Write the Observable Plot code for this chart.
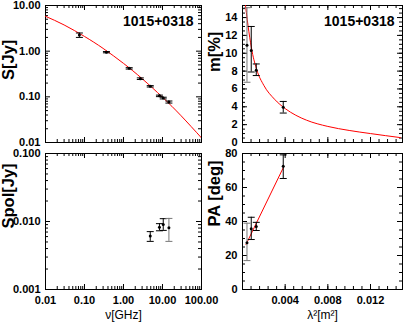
<!DOCTYPE html>
<html>
<head>
<meta charset="utf-8">
<script src="https://cdn.jsdelivr.net/npm/d3@7"></script>
<script src="https://cdn.jsdelivr.net/npm/@observablehq/plot@0.6"></script>
<style>
  body { margin: 0; background: white; }
  #c { position: relative; width: 407px; height: 323px; background: white; overflow: hidden; }
</style>
</head>
<body>
<div id="c"></div>
<script>
// ---- Data ----
const sourceName = "1015+0318";

// Total flux density spectrum
const nuS   = [0.074, 0.365, 1.4, 2.7, 4.85, 8.35, 10.45, 14.6];   // GHz
const S     = [2.25, 0.95, 0.42, 0.25, 0.17, 0.105, 0.094, 0.077]; // Jy
const SErr  = [0.25, 0.03, 0.015, 0.01, 0.006, 0.004, 0.004, 0.004];

// Fitted spectrum curve
const nuFit = [0.01, 0.03, 0.1, 0.3, 1, 3, 10, 30, 100];
const SFit  = [5.8, 3.75, 2.1, 1.15, 0.54, 0.25, 0.098, 0.0385, 0.0126];

// Polarized flux density
const nuPol  = [4.85, 8.35, 10.45, 14.6];
const Spol   = [0.0061, 0.0082, 0.0090, 0.0081];
const SpolLo = [0.0051, 0.0073, 0.0074, 0.0051];
const SpolHi = [0.0071, 0.0093, 0.0110, 0.0111];

// Fractional polarization vs lambda^2
const lam2 = [0.00382, 0.00129, 0.00082, 0.00042];
const mPct = [3.95, 8.1, 10.3, 10.9];
const mLo  = [3.3, 7.5, 7.9, 6.75];
const mHi  = [4.6, 8.8, 13.0, 15.1];

// Depolarization fit
const lam2MFit = [0.00028, 0.0006, 0.0009, 0.00135, 0.002, 0.003, 0.004, 0.005, 0.006, 0.008, 0.010, 0.012, 0.0148];
const mFit     = [15.35, 12.4, 10.2, 8.1, 6.4, 4.85, 3.8, 3.05, 2.5, 1.8, 1.35, 1.0, 0.55];

// Polarization angle vs lambda^2
const PA   = [72.5, 37.1, 35.7, 27.5];
const PALo = [65.3, 34.7, 29.4, 17.0];
const PAHi = [79.2, 39.5, 42.5, 39.0];
const isGrey = [false, false, false, true];

// RM fit line
const lam2PAFit = [0.00033, 0.00385];
const PAFit     = [26.5, 72];

// Tick labels
const logXTicks   = [0.01, 0.1, 1, 10, 100];
const sTicks      = [0.01, 0.1, 1, 10];
const spolTicks   = [0.001, 0.01, 0.1];
const lam2Labels  = [0.004, 0.008, 0.012];
const mTicks      = [0, 2, 4, 6, 8, 10, 12, 14];
const paTicks     = [0, 20, 40, 60, 80];

// ---- Helpers ----
const FONT = "'Liberation Sans', Arial, Helvetica, sans-serif";
const container = document.getElementById("c");

function logMinors(lo, hi) {
  const out = [];
  for (let e = Math.round(Math.log10(lo)); e < Math.round(Math.log10(hi)); e++) {
    for (let k = 2; k <= 9; k++) out.push(k * Math.pow(10, e));
  }
  return out;
}
function linMinors(lo, hi, step) {
  const out = [];
  const n = Math.round((hi - lo) / step);
  for (let i = 0; i <= n; i++) out.push(+(lo + i * step).toFixed(6));
  return out;
}

function frameTicks(xMaj, xMin, yMaj, yMin, fw, fh) {
  const M = 5, m = 3;
  const id = d => d;
  return [
    Plot.tickX(xMaj, {x: id, insetTop: fh - M}),
    Plot.tickX(xMaj, {x: id, insetBottom: fh - M}),
    Plot.tickX(xMin, {x: id, insetTop: fh - m}),
    Plot.tickX(xMin, {x: id, insetBottom: fh - m}),
    Plot.tickY(yMaj, {y: id, insetRight: fw - M}),
    Plot.tickY(yMaj, {y: id, insetLeft: fw - M}),
    Plot.tickY(yMin, {y: id, insetRight: fw - m}),
    Plot.tickY(yMin, {y: id, insetLeft: fw - m})
  ];
}

const capSymbol = {
  draw(context, size) {
    const w = Math.sqrt(size / Math.PI);
    context.moveTo(-w, 0);
    context.lineTo(w, 0);
  }
};

function errorMarks(data, xk, yk, lok, hik, colorFn) {
  return [
    Plot.ruleX(data, {x: xk, y1: lok, y2: hik, stroke: colorFn, strokeWidth: 1}),
    Plot.dot(data, {x: xk, y: lok, symbol: capSymbol, r: 3.5, fill: "none", stroke: colorFn, strokeWidth: 1}),
    Plot.dot(data, {x: xk, y: hik, symbol: capSymbol, r: 3.5, fill: "none", stroke: colorFn, strokeWidth: 1}),
    Plot.dot(data, {x: xk, y: yk, r: 1.5, fill: "black", stroke: "none"})
  ];
}

function place(svg, left, top) {
  svg.style.position = "absolute";
  svg.style.left = left + "px";
  svg.style.top = top + "px";
  container.appendChild(svg);
}

const baseStyle = {
  fontFamily: FONT, fontSize: "11px", fontWeight: "bold",
  background: "transparent", overflow: "visible", color: "black"
};

function yLabel(text, dx, dy) {
  return Plot.text([text], {text: d => d, frameAnchor: "left", dx, dy, rotate: -90,
    fontSize: 16.5, fontWeight: "bold", fontFamily: FONT, fill: "black"});
}
function xLabel(text) {
  return Plot.text([text], {text: d => d, frameAnchor: "bottom", dy: 21, lineAnchor: "top",
    fontSize: 12, fontWeight: "normal", fontFamily: FONT, fill: "black"});
}
function title() {
  return Plot.text([sourceName], {text: d => d, frameAnchor: "top-right", textAnchor: "end",
    dx: -8, dy: 11, fontSize: 14, fontWeight: "bold", fontFamily: FONT, fill: "black"});
}

// ---- Data tables ----
const sData = nuS.map((nu, i) => ({nu, s: S[i], lo: S[i] - SErr[i], hi: S[i] + SErr[i]}));
const sFit = nuFit.map((nu, i) => ({nu, s: SFit[i]}));
const pData = nuPol.map((nu, i) => ({nu, s: Spol[i], lo: SpolLo[i], hi: SpolHi[i], g: nu > 14}));
const mData = lam2.map((l, i) => ({l, m: mPct[i], lo: mLo[i], hi: mHi[i], g: isGrey[i]}));
const mFitData = lam2MFit.map((l, i) => ({l, m: mFit[i]}));
const paData = lam2.map((l, i) => ({l, pa: PA[i], lo: PALo[i], hi: PAHi[i], g: isGrey[i]}));
const paFitData = lam2PAFit.map((l, i) => ({l, pa: PAFit[i]}));

const colorOf = d => d.g ? "#777" : "black";

// Left panels geometry: frame x 45..201
const LW = 156;
const xLogMin = logMinors(0.01, 100);
const lam2Maj = [0, 0.004, 0.008, 0.012];
const lam2Min = linMinors(0, 0.0144, 0.0008);

// ---- Top-left: S vs nu ----
place(Plot.plot({
  width: 210, height: 150,
  marginLeft: 45, marginRight: 9, marginTop: 5, marginBottom: 8,
  style: baseStyle,
  x: {type: "log", domain: [0.01, 100], axis: null},
  y: {type: "log", domain: [0.01, 10], axis: null},
  marks: [
    Plot.frame({stroke: "black"}),
    ...frameTicks(logXTicks, xLogMin, sTicks, logMinors(0.01, 10), LW, 137),
    Plot.axisY(sTicks, {tickSize: 0, tickPadding: 5, tickFormat: d3.format(".2f"), label: null}),
    Plot.line(sFit, {x: "nu", y: "s", stroke: "red", strokeWidth: 1, curve: "natural", clip: true}),
    ...errorMarks(sData, "nu", "s", "lo", "hi", "black"),
    title(),
    yLabel("S[Jy]", -37, 6)
  ]
}), 0, 0);

// ---- Bottom-left: Spol vs nu ----
place(Plot.plot({
  width: 230, height: 175,
  marginLeft: 45, marginRight: 29, marginTop: 5, marginBottom: 34,
  style: baseStyle,
  x: {type: "log", domain: [0.01, 100], axis: null},
  y: {type: "log", domain: [0.001, 0.1], axis: null},
  marks: [
    Plot.frame({stroke: "black"}),
    ...frameTicks(logXTicks, xLogMin, spolTicks, logMinors(0.001, 0.1), LW, 136),
    Plot.axisY(spolTicks, {tickSize: 0, tickPadding: 5, tickFormat: d3.format(".3f"), label: null}),
    Plot.axisX(logXTicks, {tickSize: 0, tickPadding: 7, tickFormat: d3.format(".2f"), label: null}),
    ...errorMarks(pData, "nu", "s", "lo", "hi", colorOf),
    yLabel("Spol[Jy]", -37, 7),
    xLabel("ν[GHz]")
  ]
}), 0, 148);

// Right panels geometry: frame x 242..402
const RW = 160;

// ---- Top-right: m vs lambda^2 ----
place(Plot.plot({
  width: 207, height: 150,
  marginLeft: 42, marginRight: 5, marginTop: 5, marginBottom: 8,
  style: baseStyle,
  x: {type: "linear", domain: [0, 0.015], axis: null},
  y: {type: "linear", domain: [0, 15.35], axis: null},
  marks: [
    Plot.frame({stroke: "black"}),
    ...frameTicks(lam2Maj, lam2Min, mTicks, linMinors(0, 15, 0.5), RW, 137),
    Plot.axisY(mTicks, {tickSize: 0, tickPadding: 5, tickFormat: d3.format("d"), label: null}),
    Plot.line(mFitData, {x: "l", y: "m", stroke: "red", strokeWidth: 1, curve: "monotone-x", clip: true}),
    ...errorMarks(mData, "l", "m", "lo", "hi", colorOf),
    title(),
    yLabel("m[%]", -28, -2)
  ]
}), 200, 0);

// ---- Bottom-right: PA vs lambda^2 ----
place(Plot.plot({
  width: 207, height: 175,
  marginLeft: 42, marginRight: 5, marginTop: 5, marginBottom: 34,
  style: baseStyle,
  x: {type: "linear", domain: [0, 0.015], axis: null},
  y: {type: "linear", domain: [0, 80], axis: null},
  marks: [
    Plot.frame({stroke: "black"}),
    ...frameTicks(lam2Maj, lam2Min, paTicks, linMinors(0, 80, 5), RW, 136),
    Plot.axisY(paTicks, {tickSize: 0, tickPadding: 5, tickFormat: d3.format("d"), label: null}),
    Plot.axisX(lam2Labels, {tickSize: 0, tickPadding: 7, tickFormat: d3.format(".3f"), label: null}),
    Plot.line(paFitData, {x: "l", y: "pa", stroke: "red", strokeWidth: 1}),
    ...errorMarks(paData, "l", "pa", "lo", "hi", colorOf),
    yLabel("PA [deg]", -28, 5),
    xLabel("λ²[m²]")
  ]
}), 200, 148);
</script>
</body>
</html>
